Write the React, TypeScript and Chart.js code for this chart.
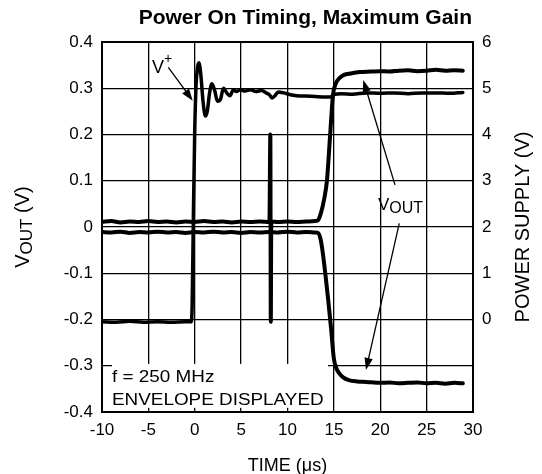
import React, { useEffect, useRef } from 'react';
import { Chart, registerables } from 'chart.js';

Chart.register(...registerables);

const FONT = '"Liberation Sans", Arial, Helvetica, sans-serif';

// ---- text ----
const chartTitle = 'Power On Timing, Maximum Gain';
const xAxisTitle = 'TIME (μs)';
const rightAxisTitle = 'POWER SUPPLY (V)';
const noteLines = ['f = 250 MHz', 'ENVELOPE DISPLAYED'];

// ---- axes ----
const timeMin = -10;
const timeMax = 30;
const timeStep = 5;
const voutMin = -0.4;
const voutMax = 0.4;
const voutStep = 0.1;
const supplyMin = -2;
const supplyMax = 6;
const supplyStep = 1;

// ---- V+ power supply trace (right axis, volts) ----
const vPlusTime = [
  -10, -8.5, -7, -5.5, -4, -2.5, -1, -0.4,
  -0.28, -0.15, 0.0, 0.15, 0.3, 0.45, 0.65, 0.9,
  1.15, 1.35, 1.6, 1.85, 2.15, 2.45, 2.75, 3.1,
  3.45, 3.8, 4.15, 4.5, 4.9, 5.4, 6.0, 6.6,
  7.2, 7.7, 8.05, 8.35, 8.65, 9.0, 9.6, 10.3,
  11, 12, 13, 14, 14.6, 15.1, 15.8, 17,
  18.5, 20, 21.5, 23, 24.5, 26, 27.5, 28.9,
];
const vPlusVolts = [
  -0.05, -0.06, -0.04, -0.06, -0.05, -0.06, -0.05, -0.05,
  0.3, 2.2, 4.1, 5.1, 5.45, 5.55, 5.3, 4.7,
  4.4, 4.5, 4.9, 5.1, 4.95, 4.72, 4.75, 5.0,
  4.9, 4.84, 4.96, 4.93, 4.97, 4.94, 4.97, 4.93,
  4.95, 4.9, 4.86, 4.79, 4.84, 4.92, 4.9, 4.86,
  4.84, 4.83, 4.82, 4.81, 4.81, 4.87, 4.88, 4.87,
  4.9, 4.89, 4.9, 4.88, 4.9, 4.9, 4.89, 4.91,
];

// ---- VOUT upper envelope (left axis, volts) ----
const voutHighTime = [
  -10, -9, -8, -7, -6, -5, -4, -3, -2, -1, 0, 1, 2, 3, 4, 5, 6, 7, 8.05,
  8.15, 8.2, 8.25, 9, 10, 11, 12, 13, 13.3,
  13.6, 13.95, 14.25, 14.6, 14.9, 15.2, 15.6, 16.1, 16.8, 17.8,
  19, 20, 21, 22, 23, 24, 25, 26, 27, 28, 28.9,
];
const voutHighVolts = [
  0.011, 0.013, 0.01, 0.012, 0.011, 0.013, 0.011, 0.012, 0.01, 0.012, 0.011, 0.013, 0.011, 0.012, 0.01, 0.012, 0.011, 0.012, 0.011,
  0.2, -0.205, 0.012, 0.011, 0.012, 0.011, 0.012, 0.013, 0.015,
  0.03, 0.06, 0.1, 0.2, 0.285, 0.31, 0.322, 0.329, 0.332, 0.335,
  0.336, 0.337, 0.336, 0.338, 0.339, 0.337, 0.338, 0.34, 0.338, 0.339, 0.338,
];

// ---- VOUT lower envelope (left axis, volts) ----
const voutLowTime = [
  -10, -9, -8, -7, -6, -5, -4, -3, -2, -1, 0, 1, 2, 3, 4, 5, 6, 7, 8, 9, 10, 11, 12, 13,
  13.3, 13.55, 13.8, 14.1, 14.4, 14.7, 15.0, 15.3, 15.6, 16.0, 16.6, 17.5,
  18.5, 20, 21, 22, 23, 24, 25, 26, 27, 28, 28.9,
];
const voutLowVolts = [
  -0.011, -0.012, -0.01, -0.013, -0.011, -0.012, -0.01, -0.012, -0.011, -0.013, -0.011, -0.012, -0.01, -0.012, -0.011, -0.013, -0.011, -0.012, -0.011, -0.012, -0.01, -0.012, -0.011, -0.012,
  -0.013, -0.025, -0.055, -0.105, -0.16, -0.22, -0.285, -0.307, -0.317, -0.325, -0.331, -0.334,
  -0.335, -0.337, -0.336, -0.338, -0.337, -0.336, -0.338, -0.337, -0.339, -0.337, -0.338,
];

// ---- annotations (data units: time µs, VOUT volts) ----
const vPlusLabelAt = [-4.61, 0.333];
const vPlusArrow = [[-2.85, 0.345], [-0.22, 0.273]];
const voutLabelAt = [19.76, 0.037];
const voutArrows = [
  [[21.59, 0.091], [18.17, 0.318]],
  [[22.05, 0.008], [18.46, -0.309]],
];
const noteBox = [[-8.92, -0.296], [14.37, -0.391]];
const noteAt = [-8.92, -0.335, -0.385];

type Run = { text: string; size: number; dy?: number; bold?: boolean };

function runsWidth(ctx: CanvasRenderingContext2D, runs: Run[]) {
  let w = 0;
  for (const r of runs) {
    ctx.font = `${r.bold ? 'bold ' : ''}${r.size}px ${FONT}`;
    w += ctx.measureText(r.text).width;
  }
  return w;
}

function drawRuns(ctx: CanvasRenderingContext2D, runs: Run[], x: number, y: number, sx = 1) {
  ctx.save();
  ctx.translate(x, y);
  ctx.scale(sx, 1);
  ctx.textAlign = 'left';
  ctx.textBaseline = 'alphabetic';
  let cx = 0;
  for (const r of runs) {
    ctx.font = `${r.bold ? 'bold ' : ''}${r.size}px ${FONT}`;
    ctx.fillText(r.text, cx, r.dy || 0);
    cx += ctx.measureText(r.text).width;
  }
  ctx.restore();
}

function drawArrow(ctx: CanvasRenderingContext2D, x0: number, y0: number, x1: number, y1: number) {
  const a = Math.atan2(y1 - y0, x1 - x0);
  const L = 12;
  const W = 4.2;
  const c = Math.cos(a);
  const s = Math.sin(a);
  ctx.beginPath();
  ctx.moveTo(x0, y0);
  ctx.lineTo(x1 - L * 0.7 * c, y1 - L * 0.7 * s);
  ctx.stroke();
  ctx.beginPath();
  ctx.moveTo(x1, y1);
  ctx.lineTo(x1 - L * c + W * s, y1 - L * s - W * c);
  ctx.lineTo(x1 - L * c - W * s, y1 - L * s + W * c);
  ctx.closePath();
  ctx.fill();
}

const overlayPlugin = {
  id: 'overlay',
  beforeDatasetsDraw(chart: any) {
    const { ctx, chartArea: a, scales } = chart;
    const xs = scales.x;
    const ys = scales.y;
    ctx.save();
    // white label box hiding the grid
    const bx0 = xs.getPixelForValue(noteBox[0][0]);
    const by0 = ys.getPixelForValue(noteBox[0][1]);
    const bx1 = xs.getPixelForValue(noteBox[1][0]);
    const by1 = ys.getPixelForValue(noteBox[1][1]);
    ctx.fillStyle = '#fff';
    ctx.fillRect(bx0, by0, bx1 - bx0, by1 - by0);
    // frame
    ctx.strokeStyle = '#000';
    ctx.lineWidth = 2;
    ctx.strokeRect(a.left, a.top, a.right - a.left, a.bottom - a.top);
    ctx.restore();
  },
  afterDatasetsDraw(chart: any) {
    const { ctx, chartArea: a, scales } = chart;
    const xs = scales.x;
    const ys = scales.y;
    const P = (p: number[]) => [xs.getPixelForValue(p[0]), ys.getPixelForValue(p[1])];
    ctx.save();
    ctx.fillStyle = '#000';
    ctx.strokeStyle = '#000';
    ctx.lineWidth = 1.3;

    // note text
    const nx = xs.getPixelForValue(noteAt[0]);
    drawRuns(ctx, [{ text: noteLines[0], size: 16 }], nx, ys.getPixelForValue(noteAt[1]), 1.18);
    drawRuns(ctx, [{ text: noteLines[1], size: 16 }], nx, ys.getPixelForValue(noteAt[2]), 1.18);

    // V+ label and arrow
    const [vx, vy] = P(vPlusLabelAt);
    drawRuns(ctx, [{ text: 'V', size: 18 }, { text: '+', size: 14, dy: -10 }], vx, vy);
    const [ax0, ay0] = P(vPlusArrow[0]);
    const [ax1, ay1] = P(vPlusArrow[1]);
    drawArrow(ctx, ax0, ay0, ax1, ay1);

    // VOUT label and arrows
    const [ox, oy] = P(voutLabelAt);
    drawRuns(ctx, [{ text: 'V', size: 17 }, { text: 'OUT', size: 16, dy: 3 }], ox, oy);
    for (const arr of voutArrows) {
      const [p0x, p0y] = P(arr[0]);
      const [p1x, p1y] = P(arr[1]);
      drawArrow(ctx, p0x, p0y, p1x, p1y);
    }

    // chart title
    ctx.font = `bold 21px ${FONT}`;
    ctx.textAlign = 'right';
    ctx.textBaseline = 'alphabetic';
    ctx.fillText(chartTitle, a.right - 1, 23.5);

    // x axis title
    ctx.font = `18px ${FONT}`;
    ctx.textAlign = 'center';
    ctx.fillText(xAxisTitle, (a.left + a.right) / 2, a.bottom + 59);

    // left axis title
    const cy = (a.top + a.bottom) / 2;
    const leftRuns: Run[] = [
      { text: 'V', size: 20 },
      { text: 'OUT', size: 17, dy: 3 },
      { text: ' (V)', size: 20 },
    ];
    const lw = runsWidth(ctx, leftRuns);
    ctx.save();
    ctx.translate(a.left - 73, cy);
    ctx.rotate(-Math.PI / 2);
    drawRuns(ctx, leftRuns, -lw / 2, 0);
    ctx.restore();

    // right axis title
    const rightRuns: Run[] = [{ text: rightAxisTitle, size: 20 }];
    const rw = runsWidth(ctx, rightRuns);
    ctx.save();
    ctx.translate(a.right + 56, cy);
    ctx.rotate(-Math.PI / 2);
    drawRuns(ctx, rightRuns, -rw / 2, 0);
    ctx.restore();

    ctx.restore();
  },
};

function toPoints(xs: number[], ys: number[]) {
  return xs.map((x, i) => ({ x, y: ys[i] }));
}

function fmtVout(v: number) {
  const r = Math.round(v * 10) / 10;
  if (Math.abs(r) < 1e-9) return '0';
  return r.toFixed(1);
}

export default function App() {
  const ref = useRef<HTMLCanvasElement | null>(null);

  useEffect(() => {
    if (!ref.current) return;
    const lineStyle = {
      borderColor: '#000',
      backgroundColor: '#000',
      pointRadius: 0,
      fill: false,
      cubicInterpolationMode: 'monotone' as const,
      borderJoinStyle: 'round' as const,
      borderCapStyle: 'round' as const,
    };
    const chart = new Chart(ref.current, {
      type: 'line',
      data: {
        datasets: [
          { ...lineStyle, label: 'V+', data: toPoints(vPlusTime, vPlusVolts), yAxisID: 'y2', borderWidth: 3.5 },
          { ...lineStyle, label: 'VOUT+', data: toPoints(voutHighTime, voutHighVolts), yAxisID: 'y', borderWidth: 4 },
          { ...lineStyle, label: 'VOUT-', data: toPoints(voutLowTime, voutLowVolts), yAxisID: 'y', borderWidth: 4 },
        ],
      },
      options: {
        responsive: false,
        animation: false,
        events: [],
        layout: { padding: { top: 42, left: 0, right: 0, bottom: 0 } },
        plugins: {
          legend: { display: false },
          tooltip: { enabled: false },
          title: { display: false },
        },
        scales: {
          x: {
            type: 'linear',
            position: 'bottom',
            min: timeMin,
            max: timeMax,
            ticks: {
              stepSize: timeStep,
              color: '#000',
              font: { family: FONT, size: 17 },
              padding: 8,
              maxRotation: 0,
              autoSkip: false,
            },
            grid: { color: '#000', lineWidth: 1.3, drawTicks: false },
            border: { display: false },
            afterFit: (s: any) => {
              s.height = 62;
            },
          },
          y: {
            type: 'linear',
            position: 'left',
            min: voutMin,
            max: voutMax,
            ticks: {
              stepSize: voutStep,
              color: '#000',
              font: { family: FONT, size: 17 },
              padding: 9,
              callback: (v: any) => fmtVout(Number(v)),
            },
            grid: { color: '#000', lineWidth: 1.3, drawTicks: false },
            border: { display: false },
            afterFit: (s: any) => {
              s.width = 102;
            },
          },
          y2: {
            type: 'linear',
            position: 'right',
            min: supplyMin,
            max: supplyMax,
            ticks: {
              stepSize: supplyStep,
              color: '#000',
              font: { family: FONT, size: 17 },
              padding: 9,
              callback: (v: any) => (Number(v) >= 0 ? String(Math.round(Number(v))) : ''),
            },
            grid: { display: false, drawTicks: false },
            border: { display: false },
            afterFit: (s: any) => {
              s.width = 69;
            },
          },
        },
      } as any,
      plugins: [overlayPlugin],
    });
    return () => chart.destroy();
  }, []);

  return (
    <div style={{ position: 'absolute', left: 0, top: 0, width: 542, height: 474, background: '#fff' }}>
      <canvas ref={ref} width={542} height={474} style={{ display: 'block' }} />
    </div>
  );
}
